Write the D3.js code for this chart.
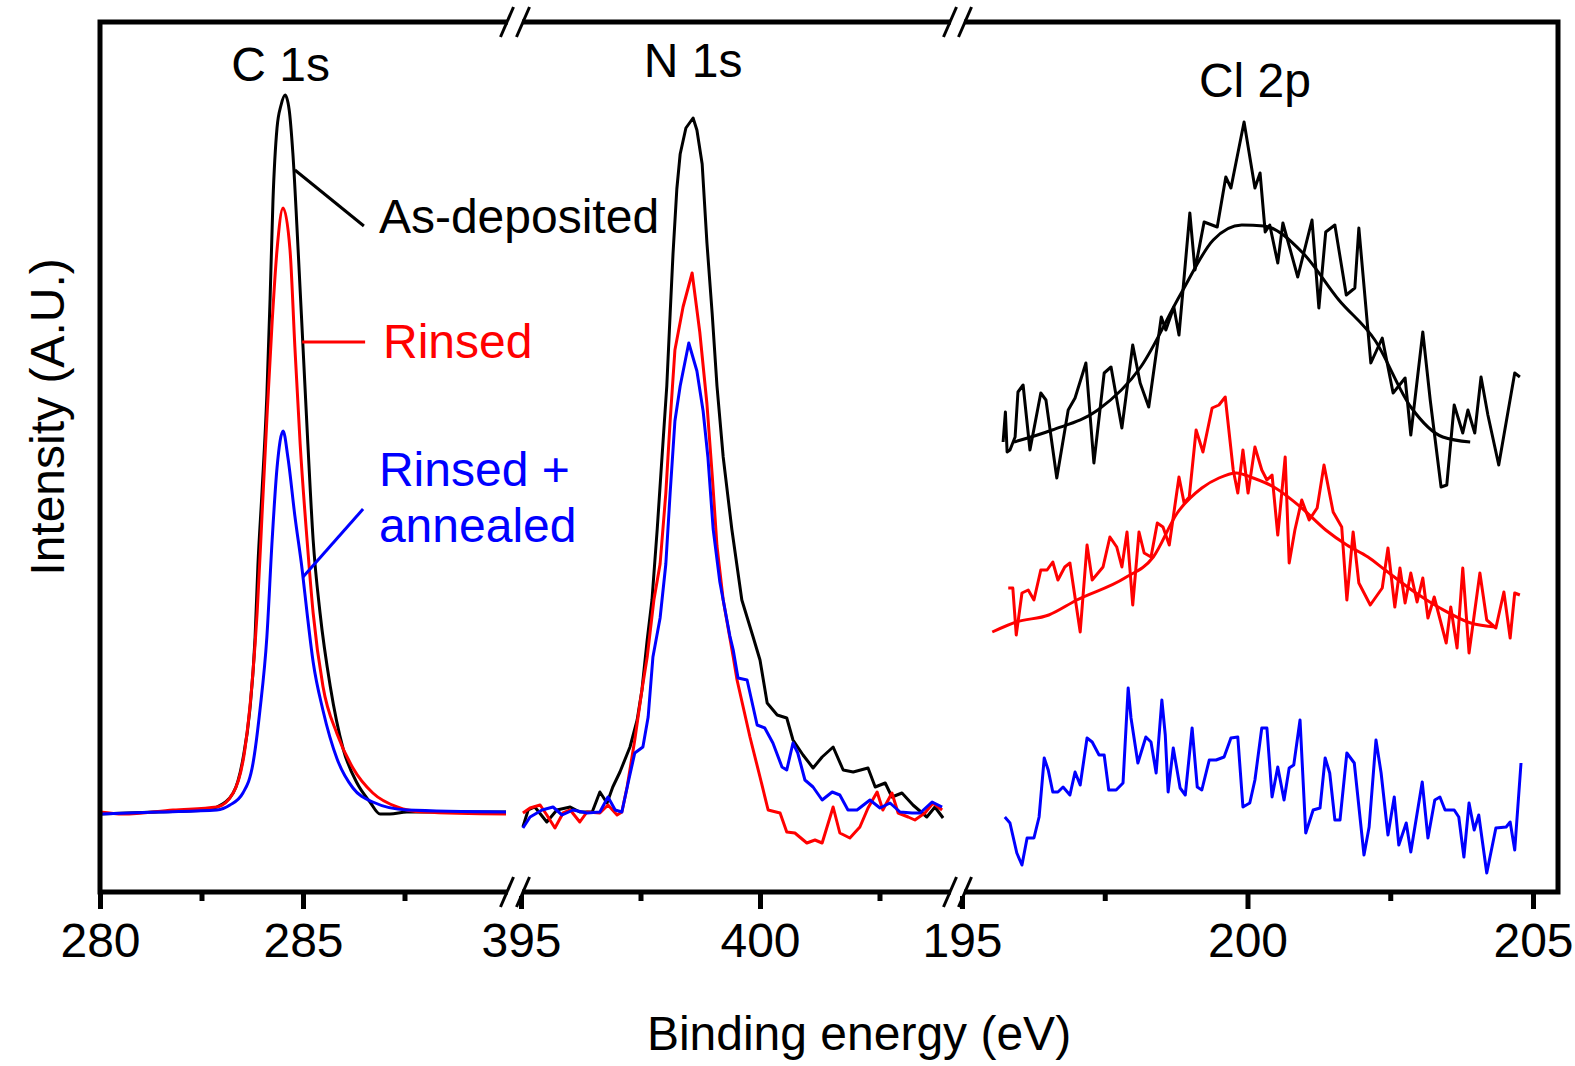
<!DOCTYPE html>
<html>
<head>
<meta charset="utf-8">
<script src="https://cdn.jsdelivr.net/npm/d3@7"></script>
<style>
    body { margin: 0; background: #fff; }
    svg text { font-family: "Liberation Sans", Arial, sans-serif; }
</style>
</head>
<body>
<div id="chart_xps"></div>
<script>

// spectra: [binding energy (eV), intensity (a.u.)]
var c1sAsDeposited = [[280.00,78],[281.40,80],[282.64,82],[282.88,85],[283.28,99],[283.52,133],[283.69,182],[283.82,255],[283.89,327],[283.99,400],[284.11,497],[284.19,594],[284.26,691],[284.36,764],[284.46,787],[284.56,797],[284.66,782],[284.75,739],[284.88,642],[285.00,545],[285.12,448],[285.25,352],[285.42,279],[285.67,206],[285.99,143],[286.33,109],[286.65,90],[286.90,78],[287.14,78],[287.56,80],[290.00,80]];
var c1sRinsed = [[280.00,80],[280.57,78],[281.80,82],[282.88,85],[283.28,99],[283.57,143],[283.74,206],[283.87,279],[283.99,376],[284.11,473],[284.24,570],[284.36,642],[284.51,684],[284.68,642],[284.80,545],[284.93,448],[285.10,352],[285.25,279],[285.49,206],[285.84,158],[286.23,124],[286.72,99],[287.32,85],[287.96,80],[290.00,78]];
var c1sAnnealed = [[280.00,78],[281.48,80],[282.88,82],[283.20,87],[283.52,99],[283.77,129],[283.94,182],[284.11,255],[284.24,352],[284.36,424],[284.51,461],[284.63,434],[284.80,376],[284.98,322],[285.10,279],[285.25,230],[285.49,182],[285.84,133],[286.23,104],[286.72,90],[287.56,82],[290.00,80]];

var n1sAsDeposited = [[395.04,65],[395.15,82],[395.29,85],[395.54,70],[395.75,82],[396.03,85],[396.23,80],[396.49,80],[396.65,100],[396.80,89],[396.92,105],[397.07,120],[397.28,145],[397.43,172],[397.53,202],[397.64,252],[397.74,292],[397.85,363],[397.95,435],[398.05,506],[398.12,578],[398.18,638],[398.26,703],[398.33,738],[398.45,764],[398.60,774],[398.68,762],[398.79,728],[398.89,649],[399.00,578],[399.10,506],[399.23,435],[399.41,363],[399.62,292],[399.85,256],[400.00,232],[400.15,189],[400.36,177],[400.56,174],[400.69,152],[400.90,137],[401.11,124],[401.30,135],[401.53,145],[401.74,122],[401.95,120],[402.26,124],[402.41,105],[402.62,109],[402.76,95],[402.97,99],[403.20,87],[403.49,75],[403.66,85],[403.83,74]];
var n1sRinsed = [[395.04,79],[395.19,84],[395.40,87],[395.54,77],[395.71,64],[395.88,79],[396.03,82],[396.23,70],[396.38,80],[396.65,79],[396.82,87],[397.01,77],[397.11,80],[397.22,105],[397.38,152],[397.53,202],[397.64,235],[397.78,292],[397.91,328],[398.03,399],[398.12,471],[398.22,542],[398.39,585],[398.58,619],[398.74,560],[398.89,488],[399.00,417],[399.10,346],[399.23,292],[399.44,235],[399.52,212],[399.79,155],[400.00,115],[400.17,82],[400.42,79],[400.56,60],[400.73,59],[400.98,49],[401.15,52],[401.30,49],[401.53,85],[401.67,59],[401.88,54],[402.09,65],[402.26,84],[402.45,100],[402.57,82],[402.76,99],[402.89,79],[403.10,75],[403.24,72],[403.45,79],[403.62,89],[403.81,82]];
var n1sAnnealed = [[395.04,64],[395.19,75],[395.44,82],[395.67,85],[395.86,77],[396.09,82],[396.38,79],[396.65,80],[396.82,95],[396.97,82],[397.11,80],[397.24,109],[397.38,139],[397.55,145],[397.66,175],[397.76,235],[397.91,274],[398.03,328],[398.12,399],[398.22,471],[398.33,506],[398.51,549],[398.68,521],[398.81,481],[398.91,435],[399.02,363],[399.16,310],[399.37,256],[399.44,242],[399.54,214],[399.73,212],[399.94,167],[400.10,164],[400.27,149],[400.46,125],[400.56,122],[400.69,149],[400.79,139],[400.94,112],[401.11,105],[401.30,92],[401.51,100],[401.67,97],[401.84,82],[402.03,82],[402.30,92],[402.51,84],[402.72,89],[402.93,80],[403.18,79],[403.35,79],[403.60,90],[403.81,85]];

var cl2pAsDeposited = [[195.72,450],[195.76,480],[195.79,440],[195.84,442],[195.93,455],[195.98,500],[196.07,507],[196.19,442],[196.38,499],[196.47,492],[196.66,414],[196.86,482],[196.98,494],[197.17,529],[197.31,429],[197.49,519],[197.61,525],[197.80,464],[197.99,547],[198.12,509],[198.27,485],[198.49,575],[198.57,562],[198.71,585],[198.80,557],[198.99,679],[199.08,622],[199.24,670],[199.47,665],[199.62,715],[199.71,704],[199.94,770],[200.13,704],[200.22,719],[200.31,660],[200.39,667],[200.53,629],[200.62,669],[200.88,615],[201.13,672],[201.25,584],[201.37,660],[201.53,667],[201.73,597],[201.88,604],[201.95,664],[202.16,529],[202.36,554],[202.55,499],[202.76,514],[202.86,457],[203.07,560],[203.20,492],[203.39,405],[203.49,407],[203.62,487],[203.77,459],[203.86,482],[203.98,459],[204.09,515],[204.21,477],[204.40,427],[204.68,519],[204.77,515]];
var cl2pAsDepositedFit = [[195.91,450],[196.58,462],[197.38,482],[198.13,525],[198.84,599],[199.40,652],[199.90,667],[200.29,666],[200.97,639],[201.60,592],[202.23,552],[202.86,485],[203.42,455],[203.90,450]];
var cl2pRinsed = [[195.81,304],[195.89,304],[195.95,257],[196.05,299],[196.16,302],[196.26,292],[196.38,322],[196.49,322],[196.59,330],[196.68,312],[196.80,325],[196.89,329],[197.07,260],[197.19,347],[197.28,312],[197.47,325],[197.59,355],[197.71,345],[197.80,325],[197.89,360],[197.99,287],[198.10,360],[198.19,339],[198.31,335],[198.42,369],[198.52,365],[198.63,347],[198.71,379],[198.80,415],[198.89,389],[198.98,395],[199.10,462],[199.22,440],[199.38,484],[199.50,487],[199.61,495],[199.75,422],[199.83,399],[199.92,442],[200.01,399],[200.13,445],[200.25,422],[200.34,412],[200.43,417],[200.53,357],[200.66,435],[200.73,329],[200.83,362],[200.95,392],[201.08,372],[201.22,384],[201.34,427],[201.50,380],[201.65,365],[201.74,292],[201.85,360],[201.95,309],[202.15,287],[202.36,304],[202.46,344],[202.58,285],[202.67,324],[202.76,289],[202.86,319],[202.97,290],[203.07,314],[203.16,274],[203.27,295],[203.48,249],[203.56,285],[203.67,244],[203.77,324],[203.88,239],[204.07,319],[204.19,272],[204.35,264],[204.49,300],[204.60,254],[204.68,299],[204.77,297]];
var cl2pRinsedFit = [[195.53,260],[195.95,270],[196.52,277],[197.01,292],[197.85,314],[198.35,335],[198.77,379],[199.20,404],[199.50,414],[199.80,419],[200.10,414],[200.46,405],[200.95,384],[201.37,362],[201.74,347],[202.11,335],[202.41,322],[202.95,299],[203.37,284],[203.91,269],[204.35,265]];
var cl2pAnnealed = [[195.75,75],[195.84,69],[195.96,39],[196.05,27],[196.14,54],[196.26,54],[196.35,75],[196.44,134],[196.51,122],[196.59,100],[196.68,100],[196.77,105],[196.89,97],[196.98,120],[197.07,107],[197.19,154],[197.28,150],[197.40,137],[197.49,137],[197.57,102],[197.70,102],[197.82,109],[197.91,204],[197.96,174],[198.08,129],[198.22,155],[198.31,150],[198.40,119],[198.50,192],[198.56,157],[198.61,100],[198.70,144],[198.82,104],[198.91,97],[199.03,164],[199.12,105],[199.20,102],[199.33,132],[199.45,132],[199.59,135],[199.71,154],[199.83,155],[199.92,85],[200.04,89],[200.13,112],[200.25,164],[200.34,164],[200.43,95],[200.53,125],[200.64,92],[200.73,124],[200.81,127],[200.92,172],[201.02,59],[201.15,82],[201.27,84],[201.36,134],[201.44,119],[201.53,72],[201.62,72],[201.74,139],[201.87,129],[202.04,37],[202.13,65],[202.25,152],[202.34,119],[202.46,57],[202.57,95],[202.65,47],[202.78,69],[202.86,40],[203.06,110],[203.16,54],[203.28,92],[203.37,95],[203.46,82],[203.62,82],[203.70,75],[203.79,35],[203.88,89],[203.97,62],[204.05,77],[204.19,19],[204.35,64],[204.53,65],[204.60,70],[204.68,42],[204.79,129]];

// tick values for each segment of the broken axis
var c1sMajorTicks = [280, 285];
var c1sMinorTicks = [282.5, 287.5];
var n1sMajorTicks = [395, 400];
var n1sMinorTicks = [397.5, 402.5];
var cl2pMajorTicks = [195, 200, 205];
var cl2pMinorTicks = [197.5, 202.5];

var seriesNames = ["As-deposited", "Rinsed", "Rinsed + annealed"];
var seriesColors = ["#000000", "#ff0000", "#0000ff"];

var frame = { left: 100, right: 1558, top: 22, bottom: 892 };
var breaks = [[507, 523], [950, 965]];

var svg = d3.select("#chart_xps")
    .append("svg")
    .attr("width", 1575)
    .attr("height", 1066);

var y = d3.scaleLinear().domain([0, 870]).range([frame.bottom, frame.top]);

var panels = [
    { title: "C 1s", titleAt: [284.45, 811],
      x: d3.scaleLinear().domain([280, 290]).range([100, 506]),
      majors: c1sMajorTicks, minors: c1sMinorTicks, curve: d3.curveMonotoneX,
      series: [
          { data: c1sAsDeposited, color: seriesColors[0] },
          { data: c1sRinsed, color: seriesColors[1] },
          { data: c1sAnnealed, color: seriesColors[2] }
      ] },
    { title: "N 1s", titleAt: [398.6, 815],
      x: d3.scaleLinear().domain([395, 404]).range([521, 951.2]),
      majors: n1sMajorTicks, minors: n1sMinorTicks, curve: d3.curveLinear,
      series: [
          { data: n1sAsDeposited, color: seriesColors[0] },
          { data: n1sRinsed, color: seriesColors[1] },
          { data: n1sAnnealed, color: seriesColors[2] }
      ] },
    { title: "Cl 2p", titleAt: [200.13, 795],
      x: d3.scaleLinear().domain([195, 205]).range([962, 1533]),
      majors: cl2pMajorTicks, minors: cl2pMinorTicks, curve: d3.curveLinear,
      series: [
          { data: cl2pAsDeposited, color: seriesColors[0] },
          { data: cl2pAsDepositedFit, color: seriesColors[0], smooth: true },
          { data: cl2pRinsed, color: seriesColors[1] },
          { data: cl2pRinsedFit, color: seriesColors[1], smooth: true },
          { data: cl2pAnnealed, color: seriesColors[2] }
      ] }
];

// the spectra
panels.forEach(function (p) {
    p.series.forEach(function (s) {
        var line = d3.line()
            .x(function (d) { return p.x(d[0]); })
            .y(function (d) { return y(d[1]); })
            .curve(s.smooth ? d3.curveMonotoneX : p.curve);
        svg.append("path")
            .datum(s.data)
            .attr("d", line)
            .attr("fill", "none")
            .attr("stroke", s.color)
            .attr("stroke-width", 3)
            .attr("stroke-linejoin", "round");
    });

    svg.append("text")
        .attr("x", p.x(p.titleAt[0]))
        .attr("y", y(p.titleAt[1]))
        .attr("text-anchor", "middle")
        .style("font-size", "48px")
        .text(p.title);
});

// frame
svg.append("rect")
    .attr("x", frame.left)
    .attr("y", frame.top)
    .attr("width", frame.right - frame.left)
    .attr("height", frame.bottom - frame.top)
    .attr("fill", "none")
    .attr("stroke", "#000")
    .attr("stroke-width", 5);

// ticks, majors with labels and minors without
panels.forEach(function (p) {
    var major = svg.append("g")
        .attr("transform", "translate(0," + frame.bottom + ")")
        .call(d3.axisBottom(p.x).tickValues(p.majors).tickSize(17).tickPadding(14).tickFormat(d3.format("d")));
    major.select(".domain").remove();
    major.selectAll("line").attr("stroke-width", 5);
    major.selectAll("text")
        .style("font-size", "48px")
        .style("font-family", "Liberation Sans, Arial, sans-serif");

    var minor = svg.append("g")
        .attr("transform", "translate(0," + frame.bottom + ")")
        .call(d3.axisBottom(p.x).tickValues(p.minors).tickSize(9).tickFormat(""));
    minor.select(".domain").remove();
    minor.selectAll("line").attr("stroke-width", 5);
});

// axis break marks on top and bottom
breaks.forEach(function (b) {
    [frame.top, frame.bottom].forEach(function (yy) {
        svg.append("rect")
            .attr("x", b[0] + 1)
            .attr("y", yy - 4)
            .attr("width", b[1] - b[0] - 2)
            .attr("height", 8)
            .attr("fill", "#fff");
        b.forEach(function (cx) {
            svg.append("line")
                .attr("x1", cx - 6.5).attr("y1", yy + 15)
                .attr("x2", cx + 6.5).attr("y2", yy - 15)
                .attr("stroke", "#000")
                .attr("stroke-width", 3);
        });
    });
});

// labels with leader lines, in C 1s coordinates
var cx = panels[0].x;
var leaders = [
    { from: [284.80, 722], to: [286.50, 666], color: seriesColors[0] },
    { from: [284.98, 550], to: [286.53, 550], color: seriesColors[1] },
    { from: [285.00, 315], to: [286.48, 383], color: seriesColors[2] }
];
leaders.forEach(function (l) {
    svg.append("line")
        .attr("x1", cx(l.from[0])).attr("y1", y(l.from[1]))
        .attr("x2", cx(l.to[0])).attr("y2", y(l.to[1]))
        .attr("stroke", l.color)
        .attr("stroke-width", 3);
});

var labels = [
    { text: "As-deposited", at: [286.87, 659], color: seriesColors[0] },
    { text: "Rinsed", at: [286.97, 534], color: seriesColors[1] },
    { text: "Rinsed +", at: [286.87, 406], color: seriesColors[2] },
    { text: "annealed", at: [286.87, 350], color: seriesColors[2] }
];
labels.forEach(function (l) {
    svg.append("text")
        .attr("x", cx(l.at[0]))
        .attr("y", y(l.at[1]))
        .attr("fill", l.color)
        .style("font-size", "48px")
        .text(l.text);
});

// axis titles
svg.append("text")
    .attr("x", 859)
    .attr("y", 1050)
    .attr("text-anchor", "middle")
    .style("font-size", "48px")
    .text("Binding energy (eV)");

svg.append("text")
    .attr("transform", "translate(64,417) rotate(-90)")
    .attr("text-anchor", "middle")
    .style("font-size", "48px")
    .text("Intensity (A.U.)");

</script>
</body>
</html>
